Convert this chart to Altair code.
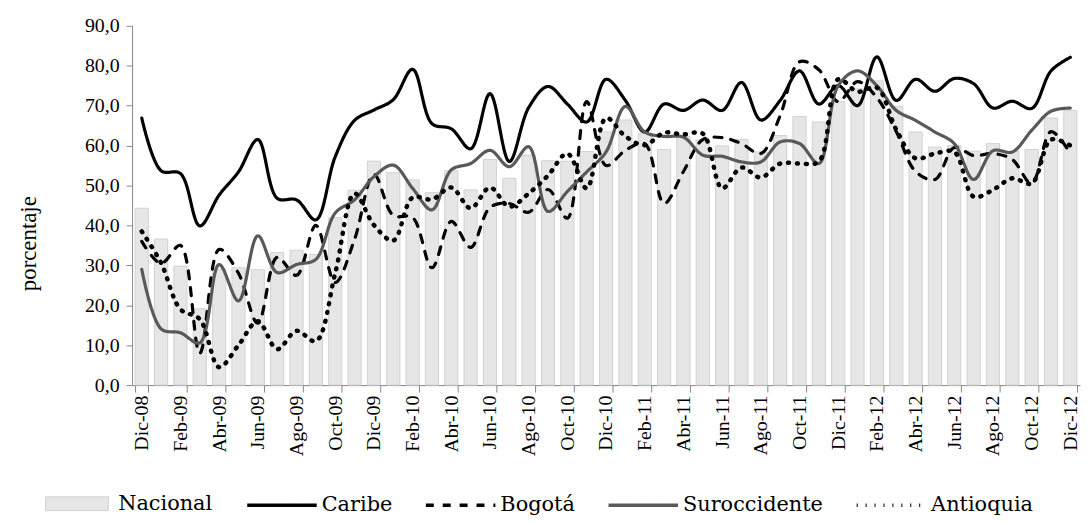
import altair as alt
import pandas as pd

meses = ["Dic-08", "Ene-09", "Feb-09", "Mar-09", "Abr-09", "May-09", "Jun-09", "Jul-09", "Ago-09", "Sep-09",
         "Oct-09", "Nov-09", "Dic-09", "Ene-10", "Feb-10", "Mar-10", "Abr-10", "May-10", "Jun-10", "Jul-10",
         "Ago-10", "Sep-10", "Oct-10", "Nov-10", "Dic-10", "Ene-11", "Feb-11", "Mar-11", "Abr-11", "May-11",
         "Jun-11", "Jul-11", "Ago-11", "Sep-11", "Oct-11", "Nov-11", "Dic-11", "Ene-12", "Feb-12", "Mar-12",
         "Abr-12", "May-12", "Jun-12", "Jul-12", "Ago-12", "Sep-12", "Oct-12", "Nov-12", "Dic-12"]

nacional = [44.3, 36.6, 29.8, 19.1, 29.0, 29.4, 28.9, 33.2, 33.8, 32.7,
            42.0, 48.8, 56.1, 53.2, 51.4, 48.2, 53.7, 48.9, 56.5, 51.8,
            57.6, 56.2, 56.1, 58.5, 63.4, 66.4, 63.0, 59.0, 62.2, 61.4,
            59.9, 61.5, 58.4, 62.5, 67.3, 65.9, 71.0, 74.2, 76.2, 69.8,
            63.4, 59.6, 60.0, 58.6, 60.5, 58.5, 59.0, 66.9, 68.8]

caribe = [66.9, 53.7, 53.0, 39.9, 47.6, 53.4, 61.5, 46.8, 46.4, 41.4,
          57.2, 66.3, 68.9, 71.5, 79.1, 65.5, 64.2, 59.2, 73.0, 56.0,
          69.5, 74.8, 70.4, 65.9, 76.6, 71.3, 63.4, 70.4, 68.8, 71.4,
          68.8, 75.8, 66.4, 71.3, 78.7, 70.4, 75.0, 70.0, 82.2, 71.3,
          76.6, 73.6, 76.8, 75.5, 69.4, 71.1, 69.3, 78.7, 82.1]

bogota = [36.0, 30.5, 35.0, 8.0, 34.0, 28.0, 15.5, 32.0, 27.5, 40.0,
          25.7, 36.5, 52.8, 42.5, 42.0, 29.4, 41.0, 34.5, 44.5, 45.5,
          43.3, 49.0, 41.8, 71.0, 55.0, 58.8, 60.5, 45.5, 53.5, 61.5,
          62.0, 60.5, 58.0, 67.5, 81.0, 79.0, 71.0, 76.0, 72.0, 63.5,
          53.5, 51.5, 59.5, 57.5, 58.0, 56.5, 50.5, 63.5, 58.0]

suroccidente = [29.0, 14.1, 13.1, 10.6, 30.2, 21.1, 37.4, 28.2, 30.2, 31.5,
                43.1, 46.4, 52.2, 55.1, 49.3, 43.9, 53.9, 55.5, 58.8, 54.7,
                59.7, 43.5, 48.5, 53.4, 58.4, 69.8, 63.4, 62.3, 62.1, 57.6,
                57.3, 55.9, 55.9, 60.9, 60.5, 55.5, 75.0, 78.7, 75.0, 68.8,
                66.3, 63.4, 60.5, 51.5, 58.7, 58.4, 63.8, 68.6, 69.4]

antioquia = [38.5, 30.6, 19.0, 16.5, 4.5, 10.0, 16.0, 9.0, 13.6, 11.0,
             28.0, 48.0, 40.1, 36.2, 47.0, 46.5, 49.5, 44.3, 49.5, 44.7,
             48.0, 52.5, 58.0, 49.3, 66.9, 62.3, 60.1, 63.2, 62.8, 63.0,
             49.3, 54.5, 52.0, 55.5, 55.5, 56.0, 76.6, 73.5, 74.5, 64.0,
             56.8, 58.0, 58.4, 47.2, 48.9, 51.8, 50.5, 61.5, 60.0]

series_lineas = ["Caribe", "Bogotá", "Suroccidente", "Antioquia"]
colores_lineas = ["#000000", "#000000", "#595959", "#000000"]
guiones_lineas = [[1, 0], [8, 9], [1, 0], [1, 8]]
y_ticks = [0, 10, 20, 30, 40, 50, 60, 70, 80, 90]
x_etiquetas = meses[::2]

df_bar = pd.DataFrame({"mes": meses, "valor": nacional, "serie": ["Nacional"] * len(meses)})
filas = []
for nombre, vals in zip(series_lineas, [caribe, bogota, suroccidente, antioquia]):
    for m, v in zip(meses, vals):
        filas.append({"mes": m, "valor": v, "serie": nombre})
df_lines = pd.DataFrame(filas)

serif = "Liberation Serif"
legend_font = "DejaVu Serif"
axis_gray = "#868686"

x_enc = alt.X(
    "mes:N",
    scale=alt.Scale(domain=meses, paddingInner=0.32, paddingOuter=0.16),
    axis=alt.Axis(
        values=x_etiquetas, title=None, labelAngle=-90, labelFont=serif, labelFontSize=20,
        labelColor="black", domainColor=axis_gray, tickColor=axis_gray, tickSize=7,
        tickBand="extent", labelPadding=3, labelOverlap=False,
    ),
)
y_enc = alt.Y(
    "valor:Q",
    scale=alt.Scale(domain=[0, 90], nice=False),
    axis=alt.Axis(
        values=y_ticks, labelExpr="replace(format(datum.value, '.1f'), '.', ',')",
        title="porcentaje", titleFont=serif, titleFontSize=23, titleFontWeight="normal",
        titleColor="black", titlePadding=44, titleY=219, labelFont=serif, labelFontSize=20,
        labelColor="black", grid=False, domainColor=axis_gray, tickColor=axis_gray,
        tickSize=6, labelPadding=7,
    ),
)

bars = alt.Chart(df_bar).mark_bar(stroke="#d2d2d2", strokeWidth=1).encode(
    x=x_enc,
    y=y_enc,
    fill=alt.Fill(
        "serie:N",
        scale=alt.Scale(domain=["Nacional"], range=["#e6e6e6"]),
        legend=alt.Legend(
            title=None, orient="none", legendX=-88, legendY=449, padding=0,
            symbolType="M-1,-0.22L1,-0.22L1,0.22L-1,0.22Z", symbolSize=4000,
            symbolStrokeColor="#d2d2d2", symbolStrokeWidth=1, symbolOpacity=1,
            labelFont=legend_font, labelFontSize=21, labelColor="black", labelOffset=9,
        ),
    ),
)

leyenda_lineas = alt.Legend(
    title=None, orient="none", legendX=114, legendY=446, direction="horizontal", padding=0,
    symbolType="stroke", symbolSize=4900, symbolStrokeWidth=3.5, columnPadding=26,
    labelFont=legend_font, labelFontSize=21, labelColor="black", labelOffset=3,
)

lines = alt.Chart(df_lines).mark_line(interpolate="catmull-rom", strokeCap="round").encode(
    x=x_enc,
    y=y_enc,
    stroke=alt.Stroke("serie:N", scale=alt.Scale(domain=series_lineas, range=colores_lineas),
                      legend=leyenda_lineas),
    strokeDash=alt.StrokeDash("serie:N", scale=alt.Scale(domain=series_lineas, range=guiones_lineas),
                              legend=leyenda_lineas),
    strokeWidth=alt.condition("datum.serie === 'Antioquia'", alt.value(4.5), alt.value(3.2)),
)

chart = alt.layer(bars, lines).properties(
    width=955, height=362,
    autosize=alt.AutoSizeParams(type="none"),
    padding={"left": 125, "top": 16, "right": 2, "bottom": 138},
    background="white",
).configure_view(stroke=None)

chart.save("out.html", embed_options={"renderer": "svg", "actions": False})
